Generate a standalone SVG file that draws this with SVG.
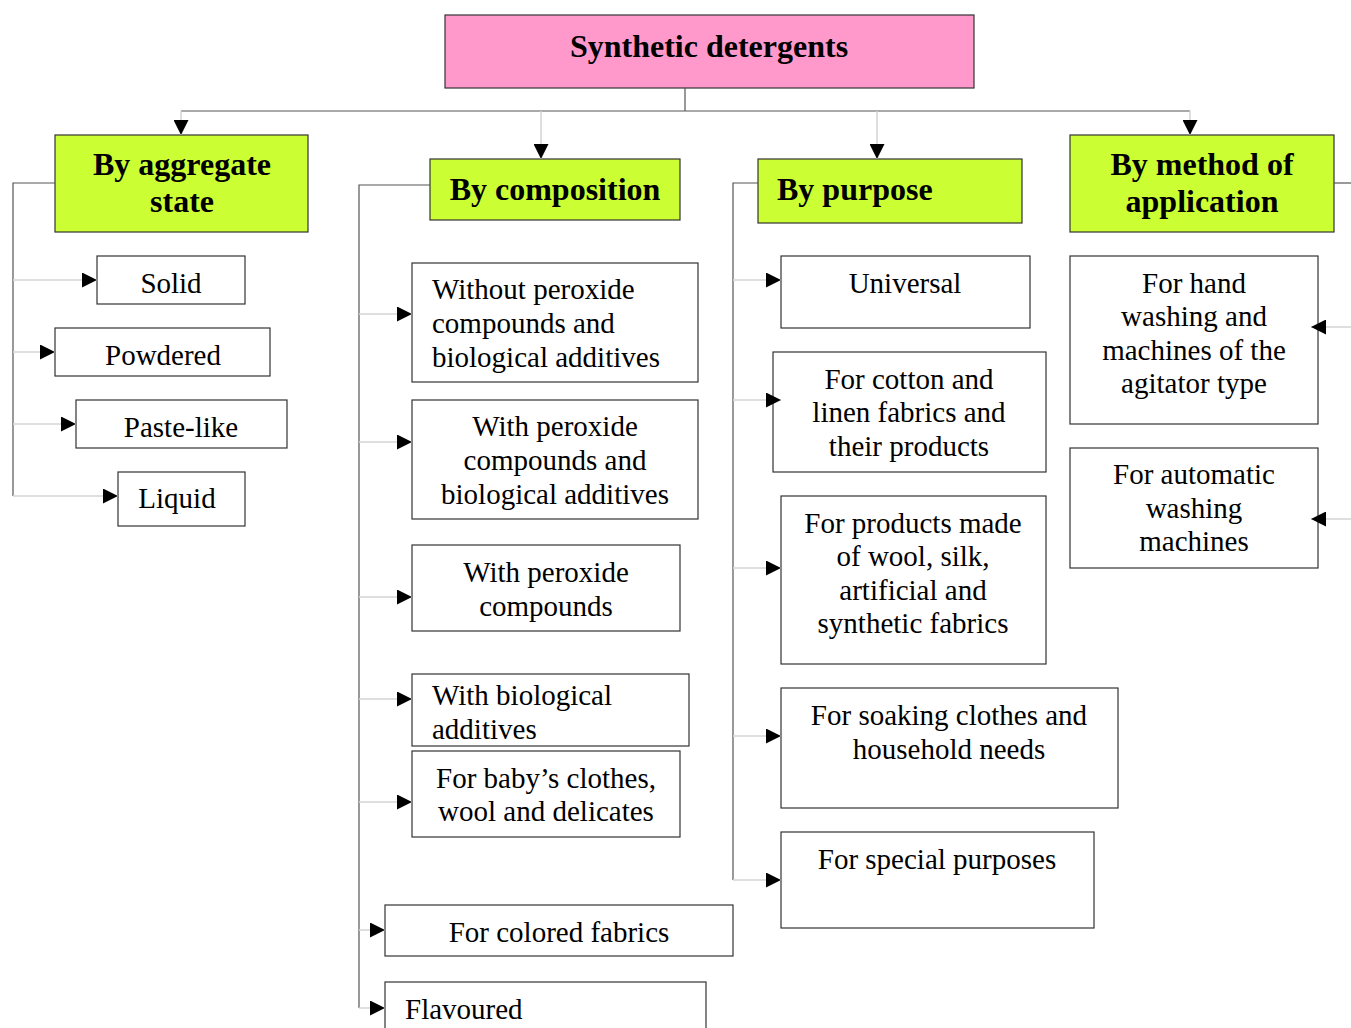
<svg xmlns="http://www.w3.org/2000/svg" width="1351" height="1028" viewBox="0 0 1351 1028">
<defs>
<marker id="ah" viewBox="0 0 10 10" refX="10" refY="5" markerWidth="15" markerHeight="15" markerUnits="userSpaceOnUse" orient="auto">
<path d="M0,0 L10,5 L0,10 z" fill="#000"/>
</marker>
<style>
.root{fill:#ff99cc;stroke:#333;stroke-width:1.2}
.cat{fill:#ccff33;stroke:#333;stroke-width:1.2}
.box{fill:#fff;stroke:#333;stroke-width:1.2}
.tb{font-family:"Liberation Serif","Times New Roman",serif;font-weight:bold;font-size:32px;fill:#000}
.t{font-family:"Liberation Serif","Times New Roman",serif;font-size:29px;fill:#000}
.m{text-anchor:middle}
.main{stroke:#555;stroke-width:1.2;fill:none}
.br{stroke:#d4d4d4;stroke-width:1.5;fill:none;marker-end:url(#ah)}
</style>
</defs>
<rect width="1351" height="1028" fill="#fff"/>

<g id="root">
<rect class="root" x="445" y="15" width="529" height="73"/>
<text class="tb m" x="709" y="57">Synthetic detergents</text>
</g>

<g id="by-aggregate-state">
<rect class="cat" x="55" y="135" width="253" height="97"/>
<text class="tb m" x="182" y="175">By aggregate</text>
<text class="tb m" x="182" y="212">state</text>
</g>
<g id="by-composition">
<rect class="cat" x="430" y="159" width="250" height="61"/>
<text class="tb m" x="555" y="200">By composition</text>
</g>
<g id="by-purpose">
<rect class="cat" x="758" y="159" width="264" height="64"/>
<text class="tb" x="777" y="200">By purpose</text>
</g>
<g id="by-method">
<rect class="cat" x="1070" y="135" width="264" height="97"/>
<text class="tb m" x="1202" y="175">By method of</text>
<text class="tb m" x="1202" y="212">application</text>
</g>

<g id="solid">
<rect class="box" x="97" y="256" width="148" height="48"/>
<text class="t m" x="171" y="293">Solid</text>
</g>
<g id="powdered">
<rect class="box" x="55" y="328" width="215" height="48"/>
<text class="t m" x="163" y="365">Powdered</text>
</g>
<g id="paste-like">
<rect class="box" x="76" y="400" width="211" height="48"/>
<text class="t m" x="181" y="437">Paste-like</text>
</g>
<g id="liquid">
<rect class="box" x="118" y="472" width="127" height="54"/>
<text class="t m" x="177" y="508">Liquid</text>
</g>

<g id="without-peroxide">
<rect class="box" x="412" y="263" width="286" height="119"/>
<text class="t" x="432" y="299">Without peroxide</text>
<text class="t" x="432" y="333">compounds and</text>
<text class="t" x="432" y="367">biological additives</text>
</g>
<g id="with-peroxide-bio">
<rect class="box" x="412" y="400" width="286" height="119"/>
<text class="t m" x="555" y="436">With peroxide</text>
<text class="t m" x="555" y="470">compounds and</text>
<text class="t m" x="555" y="504">biological additives</text>
</g>
<g id="with-peroxide">
<rect class="box" x="412" y="545" width="268" height="86"/>
<text class="t m" x="546" y="582">With peroxide</text>
<text class="t m" x="546" y="616">compounds</text>
</g>
<g id="with-bio">
<rect class="box" x="412" y="674" width="277" height="72"/>
<text class="t" x="432" y="705">With biological</text>
<text class="t" x="432" y="739">additives</text>
</g>
<g id="baby">
<rect class="box" x="412" y="751" width="268" height="86"/>
<text class="t m" x="546" y="788">For baby’s clothes,</text>
<text class="t m" x="546" y="821">wool and delicates</text>
</g>
<g id="colored">
<rect class="box" x="385" y="905" width="348" height="51"/>
<text class="t m" x="559" y="942">For colored fabrics</text>
</g>
<g id="flavoured">
<rect class="box" x="385" y="982" width="321" height="60"/>
<text class="t" x="405" y="1019">Flavoured</text>
</g>

<g id="universal">
<rect class="box" x="781" y="256" width="249" height="72"/>
<text class="t m" x="905" y="293">Universal</text>
</g>
<g id="cotton">
<rect class="box" x="773" y="352" width="273" height="120"/>
<text class="t m" x="909" y="389">For cotton and</text>
<text class="t m" x="909" y="422">linen fabrics and</text>
<text class="t m" x="909" y="456">their products</text>
</g>
<g id="wool-silk">
<rect class="box" x="781" y="496" width="265" height="168"/>
<text class="t m" x="913" y="533">For products made</text>
<text class="t m" x="913" y="566">of wool, silk,</text>
<text class="t m" x="913" y="600">artificial and</text>
<text class="t m" x="913" y="633">synthetic fabrics</text>
</g>
<g id="soaking">
<rect class="box" x="781" y="688" width="337" height="120"/>
<text class="t m" x="949" y="725">For soaking clothes and</text>
<text class="t m" x="949" y="759">household needs</text>
</g>
<g id="special">
<rect class="box" x="781" y="832" width="313" height="96"/>
<text class="t m" x="937" y="869">For special purposes</text>
</g>

<g id="hand-washing">
<rect class="box" x="1070" y="256" width="248" height="168"/>
<text class="t m" x="1194" y="293">For hand</text>
<text class="t m" x="1194" y="326">washing and</text>
<text class="t m" x="1194" y="360">machines of the</text>
<text class="t m" x="1194" y="393">agitator type</text>
</g>
<g id="automatic">
<rect class="box" x="1070" y="448" width="248" height="120"/>
<text class="t m" x="1194" y="484">For automatic</text>
<text class="t m" x="1194" y="518">washing</text>
<text class="t m" x="1194" y="551">machines</text>
</g>

<g id="connectors">
<path class="main" d="M685,88 V111 M181,111 H1190"/>
<path class="br" d="M181,111 V135"/>
<path class="br" d="M541,111 V159"/>
<path class="br" d="M877,111 V159"/>
<path class="br" d="M1190,111 V135"/>

<path class="main" d="M55,183 H13 V496"/>
<path class="br" d="M13,280 H97"/>
<path class="br" d="M13,352 H55"/>
<path class="br" d="M13,424 H76"/>
<path class="br" d="M13,496 H118"/>

<path class="main" d="M430,185 H359 V1008"/>
<path class="br" d="M359,314 H412"/>
<path class="br" d="M359,442 H412"/>
<path class="br" d="M359,597 H412"/>
<path class="br" d="M359,699 H412"/>
<path class="br" d="M359,802 H412"/>
<path class="br" d="M359,930 H385"/>
<path class="br" d="M359,1008 H385"/>

<path class="main" d="M758,183 H733 V880"/>
<path class="br" d="M733,280 H781"/>
<path class="br" d="M733,400 H781"/>
<path class="br" d="M733,568 H781"/>
<path class="br" d="M733,736 H781"/>
<path class="br" d="M733,880 H781"/>

<path class="main" d="M1334,183 H1351"/>
<path class="br" d="M1351,327 H1311"/>
<path class="br" d="M1351,519 H1311"/>
</g>
</svg>
